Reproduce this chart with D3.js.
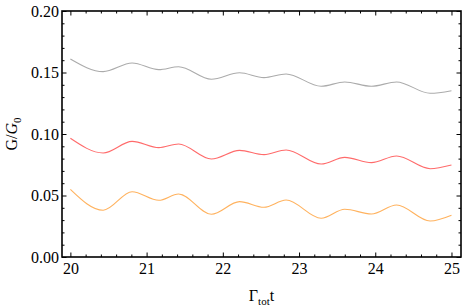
<!DOCTYPE html>
<html>
<head>
<meta charset="utf-8">
<script src="https://cdn.jsdelivr.net/npm/d3@7.9.0/dist/d3.min.js"></script>
<style>
  body { margin: 0; background: #fff; }
  svg { display: block; }
</style>
</head>
<body>
<div id="chart"></div>
<script>
// at the turning points of the curves
const times = [20, 20.43, 20.81, 21.16, 21.42, 21.85, 22.22, 22.54, 22.83, 23.29, 23.60, 23.95, 24.28, 24.72, 25.0];
const greyValues = [0.161, 0.1507, 0.1577, 0.1523, 0.1547, 0.1445, 0.1498, 0.1458, 0.1488, 0.1388, 0.1423, 0.1388, 0.1423, 0.1331, 0.1352];
const redValues = [0.0965, 0.0846, 0.0940, 0.0889, 0.0919, 0.0797, 0.0867, 0.0832, 0.0870, 0.0756, 0.0810, 0.0767, 0.0821, 0.0718, 0.0748];
const orangeValues = [0.055, 0.038, 0.0531, 0.0461, 0.0512, 0.0347, 0.045, 0.0404, 0.0463, 0.0315, 0.0388, 0.035, 0.0423, 0.0293, 0.034];

const xMajor = [20, 21, 22, 23, 24, 25];
const yMajor = [0, 0.05, 0.10, 0.15, 0.20];

const series = [
  { name: 'grey', values: greyValues, color: '#ababab' },
  { name: 'red', values: redValues, color: '#ff6b6b' },
  { name: 'orange', values: orangeValues, color: '#ffb25e' },
];

const serif = '"Liberation Serif", "DejaVu Serif", serif';
const width = 463;
const height = 308;
const margin = { top: 11, right: 2, bottom: 51, left: 62 };

const svg = d3.select('#chart')
  .append('svg')
  .attr('width', width)
  .attr('height', height);

const x = d3.scaleLinear()
  .domain([19.89, 25.125])
  .range([margin.left, width - margin.right]);

const y = d3.scaleLinear()
  .domain([0, 0.2])
  .range([height - margin.bottom, margin.top]);

// minor ticks
const xMinor = d3.range(20, 25.01, 0.2).filter(d => Math.abs(d - Math.round(d)) > 0.01);
const yMinor = d3.range(0, 0.2001, 0.01).filter(d => Math.abs(d * 20 - Math.round(d * 20)) > 0.01);

function styleAxis(g) {
  g.select('.domain').remove();
  g.attr('font-family', serif);
  g.selectAll('line').attr('stroke', '#000').attr('stroke-width', 1);
  g.selectAll('text').attr('fill', '#000')
    .style('font-family', serif)
    .style('font-size', '16px');
}

// bottom
svg.append('g')
  .attr('transform', `translate(0, ${y(0)})`)
  .call(d3.axisBottom(x).tickValues(xMajor).tickSize(-4.5).tickPadding(6).tickFormat(d3.format('d')))
  .call(styleAxis);
svg.append('g')
  .attr('transform', `translate(0, ${y(0)})`)
  .call(d3.axisBottom(x).tickValues(xMinor).tickSize(-2.5).tickFormat(''))
  .call(styleAxis);
// top
svg.append('g')
  .attr('transform', `translate(0, ${y(0.2)})`)
  .call(d3.axisTop(x).tickValues(xMajor).tickSize(-4.5).tickFormat(''))
  .call(styleAxis);
svg.append('g')
  .attr('transform', `translate(0, ${y(0.2)})`)
  .call(d3.axisTop(x).tickValues(xMinor).tickSize(-2.5).tickFormat(''))
  .call(styleAxis);
// left
svg.append('g')
  .attr('transform', `translate(${x.range()[0]}, 0)`)
  .call(d3.axisLeft(y).tickValues(yMajor).tickSize(-4.5).tickPadding(3).tickFormat(d3.format('.2f')))
  .call(styleAxis);
svg.append('g')
  .attr('transform', `translate(${x.range()[0]}, 0)`)
  .call(d3.axisLeft(y).tickValues(yMinor).tickSize(-2.5).tickFormat(''))
  .call(styleAxis);
// right
svg.append('g')
  .attr('transform', `translate(${x.range()[1]}, 0)`)
  .call(d3.axisRight(y).tickValues(yMajor).tickSize(-4.5).tickFormat(''))
  .call(styleAxis);
svg.append('g')
  .attr('transform', `translate(${x.range()[1]}, 0)`)
  .call(d3.axisRight(y).tickValues(yMinor).tickSize(-2.5).tickFormat(''))
  .call(styleAxis);

// frame
svg.append('rect')
  .attr('x', x.range()[0])
  .attr('y', y(0.2))
  .attr('width', x.range()[1] - x.range()[0])
  .attr('height', y(0) - y(0.2))
  .attr('fill', 'none')
  .attr('stroke', '#000')
  .attr('stroke-width', 1.6);

// curves
const line = d3.line()
  .x((d, i) => x(times[i]))
  .y(d => y(d))
  .curve(d3.curveMonotoneX);

svg.append('g')
  .selectAll('path')
  .data(series)
  .join('path')
  .attr('d', d => line(d.values))
  .attr('fill', 'none')
  .attr('stroke', d => d.color)
  .attr('stroke-width', 1.1);

// axis titles
const xTitle = svg.append('text')
  .attr('x', (x.range()[0] + x.range()[1]) / 2)
  .attr('y', 301)
  .attr('text-anchor', 'middle')
  .style('font-family', serif)
  .style('font-size', '16px');
xTitle.append('tspan').text('Γ');
xTitle.append('tspan').attr('dy', 4).style('font-size', '11px').text('tot');
xTitle.append('tspan').attr('dy', -4).text('t');

const yTitle = svg.append('text')
  .attr('transform', `translate(17, ${(y(0) + y(0.2)) / 2}) rotate(-90)`)
  .attr('text-anchor', 'middle')
  .style('font-family', serif)
  .style('font-size', '16px');
yTitle.append('tspan').text('G/');
yTitle.append('tspan').style('font-style', 'italic').text('G');
yTitle.append('tspan').attr('dy', 4).style('font-size', '11px').text('0');
</script>
</body>
</html>
